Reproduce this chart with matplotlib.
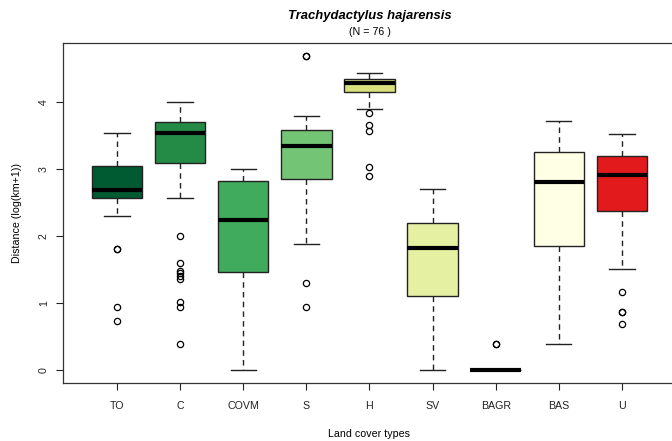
import matplotlib
matplotlib.use('Agg')
import matplotlib.pyplot as plt

# ── Data ─────────────────────────────────────────────────────────────────────
CATEGORIES = ["TO", "C", "COVM", "S", "H", "SV", "BAGR", "BAS", "U"]
WHISLO = [2.30, 2.575, 0.0, 1.88, 3.91, 0.0, 0.0, 0.40, 1.51]
Q1     = [2.57, 3.10, 1.47, 2.86, 4.16, 1.11, 0.0, 1.85, 2.38]
MEDIAN = [2.70, 3.55, 2.25, 3.35, 4.295, 1.825, 0.0, 2.82, 2.92]
Q3     = [3.05, 3.71, 2.83, 3.59, 4.345, 2.195, 0.0, 3.265, 3.195]
WHISHI = [3.54, 4.00, 3.00, 3.80, 4.445, 2.715, 0.0, 3.72, 3.525]
FLIERS = [
    [1.81, 1.81, 0.945, 0.745],
    [2.00, 1.61, 1.485, 1.45, 1.41, 1.36, 1.025, 0.945, 0.40],
    [],
    [4.70, 4.70, 1.30, 0.945],
    [3.84, 3.665, 3.575, 3.03, 2.90],
    [],
    [0.40, 0.40],
    [],
    [1.17, 0.875, 0.875, 0.69],
]
COLORS = ["#005A32", "#238B45", "#41AB5D", "#74C476", "#D9E07E",
          "#E5F0A2", "#FFFFE5", "#FFFFE5", "#E31A1C"]

stats = []
for i, name in enumerate(CATEGORIES):
    stats.append(dict(label=name, whislo=WHISLO[i], q1=Q1[i], med=MEDIAN[i],
                      q3=Q3[i], whishi=WHISHI[i], fliers=FLIERS[i]))

plt.rcParams['font.family'] = ['Liberation Sans', 'DejaVu Sans']

fig = plt.figure(figsize=(6.72, 4.41), dpi=100)
ax = fig.add_axes([0.0933, 0.1315, 0.913, 0.771])

bp = ax.bxp(stats, positions=range(1, len(CATEGORIES) + 1), widths=0.8,
            patch_artist=True, showfliers=True,
            boxprops=dict(edgecolor='#222222', linewidth=1.0),
            medianprops=dict(color='black', linewidth=3.0,
                             solid_capstyle='butt'),
            whiskerprops=dict(color='#222222', linewidth=1.0,
                              linestyle=(0, (4, 3))),
            capprops=dict(color='#222222', linewidth=1.0),
            flierprops=dict(marker='o', markersize=4.5,
                            markerfacecolor='none',
                            markeredgecolor='black', markeredgewidth=0.9))
for patch, c in zip(bp['boxes'], COLORS):
    patch.set_facecolor(c)
# caps half the box width, like R
for cap in bp['caps']:
    xs = cap.get_xdata()
    mid = (xs[0] + xs[1]) / 2
    cap.set_xdata([mid - 0.2, mid + 0.2])

ax.set_xlim(0.14, 9.86)
ax.set_ylim(-0.188, 4.888)
ax.set_yticks([0, 1, 2, 3, 4])
ax.set_yticklabels(["0", "1", "2", "3", "4"], rotation=90, va='center')
ax.tick_params(axis='both', direction='out', length=5, width=0.8,
               labelsize=7.7, colors='#222222')
ax.tick_params(axis='x', pad=8)
ax.tick_params(axis='y', pad=5)
for sp in ax.spines.values():
    sp.set_linewidth(0.9)
    sp.set_color('#333333')

ax.set_xlabel("Land cover types", fontsize=7.7, labelpad=13)
ax.set_ylabel("Distance (log(km+1))", fontsize=7.7, labelpad=12)

x_mid = 370 / 672
fig.text(x_mid, 1 - 15.5 / 441, "Trachydactylus hajarensis", ha='center',
         va='center', fontsize=9.4, fontweight='bold', style='italic')
fig.text(x_mid, 1 - 32 / 441, "(N = 76 )", ha='center', va='center',
         fontsize=7.7)

plt.savefig("out.png", dpi=100, facecolor='white')
